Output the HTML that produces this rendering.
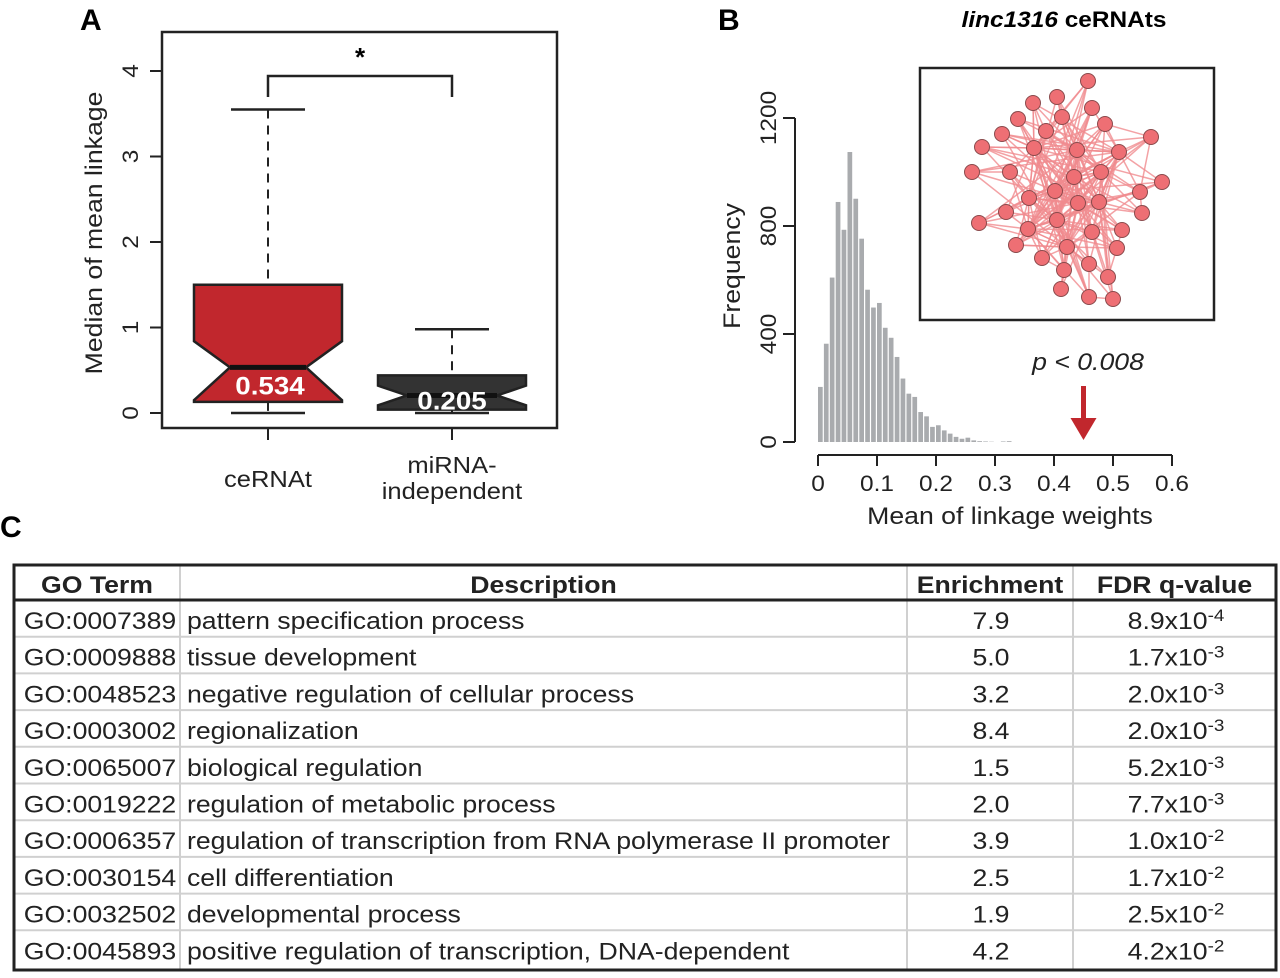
<!DOCTYPE html>
<html><head><meta charset="utf-8"><style>
html,body{margin:0;padding:0;background:#fff;}
svg{display:block;font-family:"Liberation Sans",Arial,sans-serif;}
</style></head><body>
<svg id="fig" width="1280" height="978" viewBox="0 0 1280 978">
<g id="panelA"></g>
<g id="panelB"></g>
<g id="panelC"></g>
</svg>
<script>
// ---------- Panel A data ----------
const boxGroups = ['ceRNAt', 'miRNA-\nindependent'];
const boxMin = [0, 0];
const boxQ1 = [0.13, 0.04];
const boxMedian = [0.534, 0.205];
const boxQ3 = [1.5, 0.44];
const boxMax = [3.55, 0.98];
const boxNotchLo = [0.15, 0.09];
const boxNotchHi = [0.84, 0.32];
const boxLabels = ['0.534', '0.205'];
const yTicksA = [0, 1, 2, 3, 4];

// ---------- Panel B data ----------
const histCounts = [204,364,609,889,786,1074,901,753,564,498,515,423,386,315,235,179,167,111,95,56,62,43,31,19,12,16,6,3,2,1,0,2,3,0];
const histBinWidth = 0.01;
const xTicksB = [0, 0.1, 0.2, 0.3, 0.4, 0.5, 0.6];
const yTicksB = [0, 400, 800, 1200];
const observedValue = 0.45;

// ---------- Panel C data ----------
const goTerms = ['GO:0007389','GO:0009888','GO:0048523','GO:0003002','GO:0065007','GO:0019222','GO:0006357','GO:0030154','GO:0032502','GO:0045893'];
const goDesc = ['pattern specification process','tissue development','negative regulation of cellular process','regionalization','biological regulation','regulation of metabolic process','regulation of transcription from RNA polymerase II promoter','cell differentiation','developmental process','positive regulation of transcription, DNA-dependent'];
const goEnrich = ['7.9','5.0','3.2','8.4','1.5','2.0','3.9','2.5','1.9','4.2'];
const goFdrBase = ['8.9','1.7','2.0','2.0','5.2','7.7','1.0','1.7','2.5','4.2'];
const goFdrExp = ['-4','-3','-3','-3','-3','-3','-2','-2','-2','-2'];

const NS='http://www.w3.org/2000/svg';
const SX=1.11;
function mk(parent, tag, attrs, text){
  const e=document.createElementNS(NS,tag);
  for(const k in attrs) e.setAttribute(k,attrs[k]);
  if(text!==undefined) e.textContent=text;
  parent.appendChild(e); return e;
}
// stretched text: horizontal scale about (x,y)
function st(parent, x, y, attrs, text, rot){
  const a=Object.assign({x:x,y:y},attrs);
  let tr=rot?`rotate(-90 ${x} ${y}) `:'';
  tr+=`translate(${x} ${y}) scale(${SX} 1) translate(${-x} ${-y})`;
  a.transform=tr;
  return mk(parent,'text',a,text);
}

// ================= Panel A =================
(function(){
  const g=document.getElementById('panelA');
  const y=v=>413-v*85.5;
  const xc=[268,452];
  const halfW=[74,74];
  const notchHalf=[38,45];
  let t=mk(g,'text',{x:80,y:30,'font-size':30,'font-weight':'bold'},'A');
  
  
  let f=mk(g,'rect',{x:162,y:32,width:395,height:396,fill:'none',stroke:'#222','stroke-width':2.5});
  
  
  yTicksA.forEach(v=>{
    const l=mk(g,'line',{x1:150,x2:162,y1:y(v),y2:y(v),stroke:'#222','stroke-width':2});
    
    
    const tx=st(g,138,y(v),{'font-size':22,'text-anchor':'middle',fill:'#222'},String(v),true);
    
    
  });
  let yl=st(g,102,233,{'font-size':24,'text-anchor':'middle',fill:'#222'},'Median of mean linkage',true);
  
  
  const fills=['#c1272d','#333333'];
  boxGroups.forEach((name,i)=>{
    const c=xc[i];
    const tk=mk(g,'line',{x1:c,x2:c,y1:428,y2:440,stroke:'#222','stroke-width':2});
    
    
    const lines=name.split('\n');
    lines.forEach((ln,j)=>{
      const tt=st(g,c,(lines.length===1?487:473)+j*26,{'font-size':23,'text-anchor':'middle',fill:'#222'},ln);
      
      
    });
    const w1=mk(g,'line',{x1:c,x2:c,y1:y(boxMax[i]),y2:y(boxQ3[i]),stroke:'#222','stroke-width':2,'stroke-dasharray':'9,7'});
    
    
    const w2=mk(g,'line',{x1:c,x2:c,y1:y(boxQ1[i]),y2:y(boxMin[i]),stroke:'#222','stroke-width':2,'stroke-dasharray':'9,7'});
    
    
    [boxMax[i],boxMin[i]].forEach(v=>{
      const cap=mk(g,'line',{x1:c-37,x2:c+37,y1:y(v),y2:y(v),stroke:'#222','stroke-width':2.5});
      
      
    });
    const L=c-halfW[i],R=c+halfW[i],nl=c-notchHalf[i],nr=c+notchHalf[i];
    const pts=[[L,y(boxQ3[i])],[R,y(boxQ3[i])],[R,y(boxNotchHi[i])],[nr,y(boxMedian[i])],[R,y(boxNotchLo[i])],[R,y(boxQ1[i])],[L,y(boxQ1[i])],[L,y(boxNotchLo[i])],[nl,y(boxMedian[i])],[L,y(boxNotchHi[i])]];
    const b=mk(g,'polygon',{points:pts.map(p=>p.join(',')).join(' '),fill:fills[i],stroke:'#222','stroke-width':2.5,'stroke-linejoin':'miter'});
    
    
    const m=mk(g,'line',{x1:nl,x2:nr,y1:y(boxMedian[i]),y2:y(boxMedian[i]),stroke:'#111','stroke-width':5});
    
    
    const ml=st(g,c+(i===0?2:0),y(boxMedian[i])+(i===0?27:14),{'font-size':25,'font-weight':'bold','text-anchor':'middle',fill:'#fff'},boxLabels[i]);
    
    
  });
  const br=mk(g,'polyline',{points:`${xc[0]},97 ${xc[0]},76 ${xc[1]},76 ${xc[1]},97`,fill:'none',stroke:'#222','stroke-width':2.5});
  
  
  const s=mk(g,'text',{x:360,y:66,'font-size':26,'font-weight':'bold','text-anchor':'middle'},'*');
  
  
})();

// ================= Panel B =================
(function(){
  const g=document.getElementById('panelB');
  const x=v=>818+v*590;
  const y=v=>442-v*0.27;
  let t=mk(g,'text',{x:718,y:30,'font-size':30,'font-weight':'bold'},'B');
  
  
  const ti=st(g,1064,27,{'font-size':22,'font-weight':'bold','text-anchor':'middle'});
  
  
  mk(ti,'tspan',{'font-style':'italic'},'linc1316');
  mk(ti,'tspan',{},' ceRNAts');
  histCounts.forEach((c,i)=>{
    if(c<=0) return;
    const r=mk(g,'rect',{x:x(i*histBinWidth),y:y(c),width:x(histBinWidth)-x(0)-1.2,height:y(0)-y(c),fill:'#a9abae'});
    
    
  });
  const ya=mk(g,'line',{x1:795,x2:795,y1:y(1200),y2:y(0),stroke:'#222','stroke-width':2});
  
  
  yTicksB.forEach(v=>{
    const l=mk(g,'line',{x1:783,x2:795,y1:y(v),y2:y(v),stroke:'#222','stroke-width':2});
    
    
    const tx=st(g,776,y(v),{'font-size':22,'text-anchor':'middle',fill:'#222'},String(v),true);
    
    
  });
  const yt=st(g,740,266,{'font-size':24,'text-anchor':'middle',fill:'#222'},'Frequency',true);
  
  
  const xa=mk(g,'line',{x1:x(0),x2:x(0.6),y1:455,y2:455,stroke:'#222','stroke-width':2});
  
  
  xTicksB.forEach(v=>{
    const l=mk(g,'line',{x1:x(v),x2:x(v),y1:455,y2:466,stroke:'#222','stroke-width':2});
    
    
    const tx=st(g,x(v),491,{'font-size':22,'text-anchor':'middle',fill:'#222'},String(v));
    
    
  });
  const xt=st(g,1010,524,{'font-size':24,'text-anchor':'middle',fill:'#222'},'Mean of linkage weights');
  
  
  const pv=st(g,1088,370,{'font-size':24,'font-style':'italic','text-anchor':'middle',fill:'#222'},'p < 0.008');
  
  
  const ax=x(observedValue);
  const ar=mk(g,'line',{x1:ax,x2:ax,y1:386,y2:422,stroke:'#c1272d','stroke-width':5});
  
  
  const ah=mk(g,'polygon',{points:`${ax-13},418 ${ax+13},418 ${ax},440`,fill:'#c1272d'});
  
  
  const box=mk(g,'rect',{x:920,y:68,width:294,height:252,fill:'#fff',stroke:'#222','stroke-width':2.5});
  
  
  const nodes=[[1088,81],[1057,97],[1033,103],[1092,108],[1062,117],[1018,119],[1105,124],[1046,131],[1002,134],[1151,137],[982,147],[1034,148],[1077,150],[1119,152],[972,172],[1010,172],[1074,177],[1101,172],[1162,182],[1055,191],[1140,192],[1029,198],[1078,203],[1099,202],[1006,212],[1142,213],[979,223],[1057,220],[1028,229],[1092,232],[1122,230],[1016,245],[1067,247],[1117,248],[1042,258],[1089,264],[1064,270],[1108,277],[1061,289],[1089,297],[1113,299]];
  const hubs=[11,12,16,19,22,23,27,32,21,28,13,17];
  const edges=[];
  hubs.forEach((h,k)=>{nodes.forEach((n,j)=>{ if(j!==h && ((j*7+h*3+k)%3===0 || Math.hypot(n[0]-nodes[h][0],n[1]-nodes[h][1])<55)) edges.push([h,j]);});});
  [[0,7],[1,4],[3,12],[6,9],[9,20],[2,11],[5,11],[8,11],[10,11],[14,15],[26,21],[18,20],[25,20],[31,32],[34,36],[36,38],[35,39],[39,40],[37,33],[33,30],[35,32]].forEach(e=>edges.push(e));
  const eg=mk(g,'g',{stroke:'#f08b8e','stroke-width':1.5,'stroke-opacity':0.8});
  
  
  edges.forEach(e=>{mk(eg,'line',{x1:nodes[e[0]][0],y1:nodes[e[0]][1],x2:nodes[e[1]][0],y2:nodes[e[1]][1]});});
  nodes.forEach(n=>{
    const c=mk(g,'circle',{cx:n[0],cy:n[1],r:7.5,fill:'#ee6f74',stroke:'#8a4a4c','stroke-width':1});
    
    
  });
})();

// ================= Panel C =================
(function(){
  const g=document.getElementById('panelC');
  let t=mk(g,'text',{x:0,y:537,'font-size':30,'font-weight':'bold'},'C');
  
  
  const top=565,hdrB=600,pitch=36.7,bottom=970;
  const cols=[14,180,907,1073,1276];
  const grid=mk(g,'g',{stroke:'#d0d0d0','stroke-width':2});
  
  
  for(let i=1;i<goTerms.length;i++){ const yy=hdrB+pitch*i; mk(grid,'line',{x1:14,x2:1276,y1:yy,y2:yy}); }
  [1,2,3].forEach(k=>mk(grid,'line',{x1:cols[k],x2:cols[k],y1:top,y2:bottom}));
  const hl=mk(g,'line',{x1:14,x2:1276,y1:hdrB,y2:hdrB,stroke:'#222','stroke-width':3});
  
  
  const ob=mk(g,'rect',{x:14,y:top,width:1262,height:bottom-top,fill:'none',stroke:'#222','stroke-width':3});
  
  
  const hdr=['GO Term','Description','Enrichment','FDR q-value'];
  hdr.forEach((h,k)=>{
    const tx=st(g,(cols[k]+cols[k+1])/2,593,{'font-size':24,'font-weight':'bold','text-anchor':'middle',fill:'#222'},h);
    
    
  });
  goTerms.forEach((id,i)=>{
    const yy=hdrB+pitch*i+29;
    const a=st(g,100,yy,{'font-size':24,'text-anchor':'middle',fill:'#222'},id);
    
    
    const b=st(g,187,yy,{'font-size':24,fill:'#222'},goDesc[i]);
    
    
    const c=st(g,991,yy,{'font-size':24,'text-anchor':'middle',fill:'#222'},goEnrich[i]);
    
    
    const d=st(g,1176,yy,{'font-size':24,'text-anchor':'middle',fill:'#222'});
    
    
    mk(d,'tspan',{},goFdrBase[i]+'x10');
    mk(d,'tspan',{'font-size':17,dy:-8},goFdrExp[i]);
  });
})();
</script>
</body></html>
